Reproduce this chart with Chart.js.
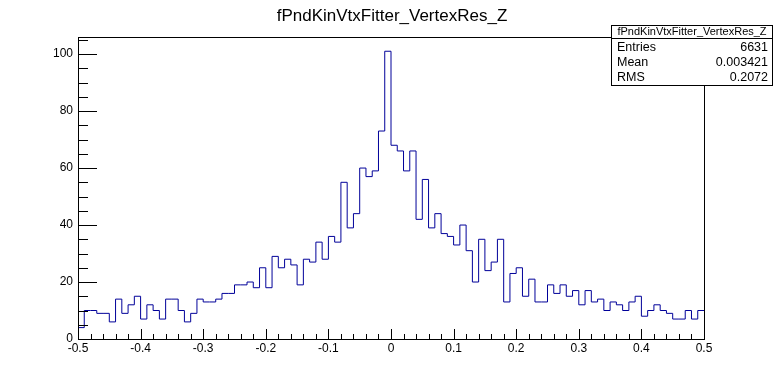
<!DOCTYPE html>
<html>
<head>
<meta charset="utf-8">
<script src="https://cdn.jsdelivr.net/npm/chart.js@4/dist/chart.umd.min.js"></script>
<style>
  body { margin: 0; background: #fff; }
  #wrap { width: 783px; height: 377px; position: relative; }
</style>
</head>
<body>
<div id="wrap"><canvas id="histo" width="783" height="377"></canvas></div>
<script>
// histogram: 100 bins from -0.5 to 0.5
const histTitle = 'fPndKinVtxFitter_VertexRes_Z';
const xMin = -0.5;
const xMax = 0.5;
const binWidth = 0.01;
const binValues = [
    4, 10, 10, 9, 9, 6, 14, 9, 12, 15,
    7, 12, 10, 7, 14, 14, 10, 6, 9, 14,
    13, 13, 14, 16, 16, 19, 19, 20, 18, 25,
    18, 29, 25, 28, 26, 19, 28, 27, 34, 28,
    36, 34, 55, 39, 44, 60, 57, 59, 73, 101,
    68, 66, 59, 66, 42, 56, 39, 44, 37, 36,
    33, 40, 31, 20, 35, 24, 27, 35, 13, 23,
    25, 15, 21, 13, 13, 19, 16, 19, 15, 17,
    12, 17, 13, 14, 10, 13, 12, 10, 13, 15,
    8, 10, 12, 10, 9, 7, 7, 10, 7, 10
];
const yMax = 106;
const statLabels = ['Entries', 'Mean', 'RMS'];
const statValues = ['6631', '0.003421', '0.2072'];

const FONT = '"Liberation Sans", Arial, sans-serif';
const LINE_COLOR = '#000099';

// 구간 경계마다 점 하나 (마지막 경계는 마지막 값 유지)
const stepPoints = [];
for (let i = 0; i <= binValues.length; i++) {
    stepPoints.push({ x: xMin + i * binWidth, y: binValues[Math.min(i, binValues.length - 1)] });
}

// ROOT 스타일 프레임, 안쪽 눈금, 제목, 통계 상자
const rootFrame = {
    id: 'rootFrame',
    afterDraw(chart) {
        const { ctx, chartArea: a, scales } = chart;
        const xs = scales.x, ys = scales.y;
        ctx.save();
        ctx.strokeStyle = '#000';
        ctx.lineWidth = 1;

        ctx.beginPath();
        // x 눈금 (주 0.1, 보조 0.02)
        for (let k = 0; k <= 50; k++) {
            const v = xMin + k * 0.02;
            const px = Math.round(xs.getPixelForValue(v)) + 0.5;
            const len = (k % 5 === 0) ? 10 : 5;
            ctx.moveTo(px, a.bottom);
            ctx.lineTo(px, a.bottom - len);
        }
        // y 눈금 (주 20, 보조 5)
        for (let v = 0; v <= yMax; v += 5) {
            const py = Math.round(ys.getPixelForValue(v)) + 0.5;
            const len = (v % 20 === 0) ? 19 : 10;
            ctx.moveTo(a.left, py);
            ctx.lineTo(a.left + len, py);
        }
        ctx.stroke();

        ctx.strokeRect(Math.round(a.left) + 0.5, Math.round(a.top) + 0.5,
            Math.round(a.right - a.left), Math.round(a.bottom - a.top));

        // 제목
        ctx.fillStyle = '#000';
        ctx.font = '17px ' + FONT;
        ctx.textAlign = 'center';
        ctx.textBaseline = 'alphabetic';
        ctx.fillText(histTitle, 392, 21);

        // 통계 상자
        const bx = 611.5, by = 25.5, bw = 161, bh = 60;
        ctx.fillStyle = '#fff';
        ctx.fillRect(bx, by, bw, bh);
        ctx.strokeRect(bx, by, bw, bh);
        ctx.beginPath();
        ctx.moveTo(bx, 38.5);
        ctx.lineTo(bx + bw, 38.5);
        ctx.stroke();
        ctx.fillStyle = '#000';
        ctx.font = '11px ' + FONT;
        ctx.textAlign = 'center';
        ctx.textBaseline = 'middle';
        ctx.fillText(histTitle, bx + bw / 2, 32);
        ctx.font = '12.5px ' + FONT;
        statLabels.forEach((lab, i) => {
            const ty = 48 + i * 15;
            ctx.textAlign = 'left';
            ctx.fillText(lab, 617, ty);
            ctx.textAlign = 'right';
            ctx.fillText(statValues[i], 768, ty);
        });
        ctx.restore();
    }
};

const ctx = document.getElementById('histo').getContext('2d');
new Chart(ctx, {
    type: 'line',
    data: {
        datasets: [{
            data: stepPoints,
            borderColor: LINE_COLOR,
            borderWidth: 1,
            pointRadius: 0,
            fill: false,
            stepped: 'before',
            tension: 0
        }]
    },
    options: {
        responsive: false,
        animation: false,
        devicePixelRatio: 1,
        layout: { padding: { top: 37, right: 79, left: 0, bottom: 0 } },
        plugins: {
            legend: { display: false },
            tooltip: { enabled: false },
            title: { display: false }
        },
        scales: {
            x: {
                type: 'linear',
                min: xMin,
                max: xMax,
                grid: { display: false, drawTicks: false },
                border: { display: false },
                ticks: {
                    stepSize: 0.1,
                    autoSkip: false,
                    maxRotation: 0,
                    padding: 2,
                    color: '#000',
                    font: { family: FONT, size: 12 },
                    callback: v => Math.abs(v) < 1e-9 ? '0' : Number(v).toFixed(1)
                },
                afterFit: s => { s.height = 38; }
            },
            y: {
                min: 0,
                max: yMax,
                grid: { display: false, drawTicks: false },
                border: { display: false },
                ticks: {
                    stepSize: 20,
                    includeBounds: false,
                    padding: 5,
                    color: '#000',
                    font: { family: FONT, size: 12 }
                },
                afterFit: s => { s.width = 78; }
            }
        }
    },
    plugins: [rootFrame]
});
</script>
</body>
</html>
